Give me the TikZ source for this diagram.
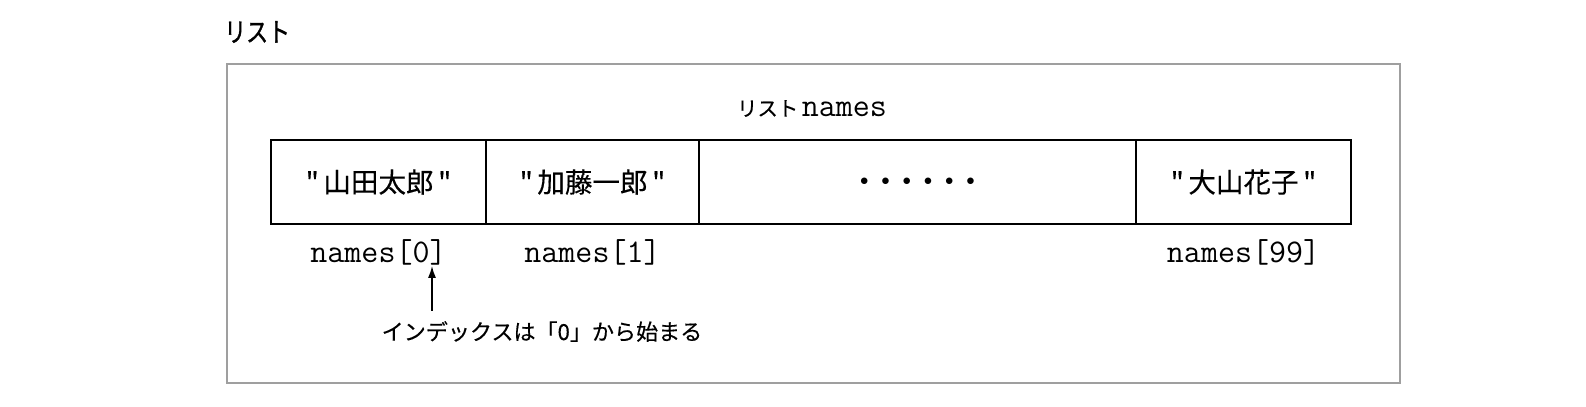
\documentclass[tikz,border=0pt]{standalone}
\usepackage{fontspec}
\newfontfamily\jpfont{Noto Sans CJK JP}[FakeBold=0.3]
\newfontfamily\jptitle{Noto Sans CJK JP}[FakeBold=1.2, FakeStretch=0.82]
\usetikzlibrary{positioning,arrows.meta}

\begin{document}
\begin{tikzpicture}[
    cell/.style={draw, line width=0.9pt, outer sep=0pt, minimum height=2.1cm,
        font=\jpfont\fontsize{19.6}{22}\selectfont},
    idx/.style={inner sep=0pt, anchor=base, font=\ttfamily\fontsize{23.5}{26}\selectfont},
    note/.style={inner sep=0pt, anchor=base, font=\jpfont\fontsize{15.7}{18}\selectfont}
]
    \useasboundingbox (0,0) rectangle (39.65,-10.15);

    % frame and title
    \draw[gray!75, line width=0.8pt] (5.675,-1.6) rectangle (35.0,-9.575);
    \node[inner sep=0pt, anchor=west, font=\jptitle\fontsize{19}{22}\selectfont]
        (title) at (5.6,-0.8) {リスト};
    \node[note] (head) at (20.3,-2.9)
        {{\fontsize{14.5}{16}\selectfont リスト}\,{\ttfamily\fontsize{23.5}{26}\selectfont names}};

    % the list cells
    \node[cell, minimum width=5.375cm, anchor=west] (c0) at (6.775,-4.55) {"\,山田太郎\,"};
    \node[cell, minimum width=5.325cm, right=0pt of c0] (c1) {"\,加藤一郎\,"};
    \node[cell, minimum width=10.925cm, right=0pt of c1] (cdots)
        {\fontsize{13}{13}\selectfont $\bullet$\hspace{9.1pt}$\bullet$\hspace{9.1pt}$\bullet$\hspace{9.1pt}$\bullet$\hspace{9.1pt}$\bullet$\hspace{9.1pt}$\bullet$};
    \node[cell, minimum width=5.375cm, right=0pt of cdots] (c99) {"\,大山花子\,"};

    % indices
    \node[idx] (i0) at (c0 |- 0,-6.57) {names[0]};
    \node[idx] (i1) at (c1 |- 0,-6.57) {names[1]};
    \node[idx] (i99) at (c99 |- 0,-6.57) {names[99]};

    \node[note] (start) at (13.55,-8.5) {インデックスは「0」から始まる};
    \draw[-{Latex[length=0.3cm,width=0.2cm]}, line width=1.2pt, shorten <=0.25cm]
        (start.north -| 10.8,0) -- (i0.south -| 10.8,0);

\end{tikzpicture}
\end{document}
